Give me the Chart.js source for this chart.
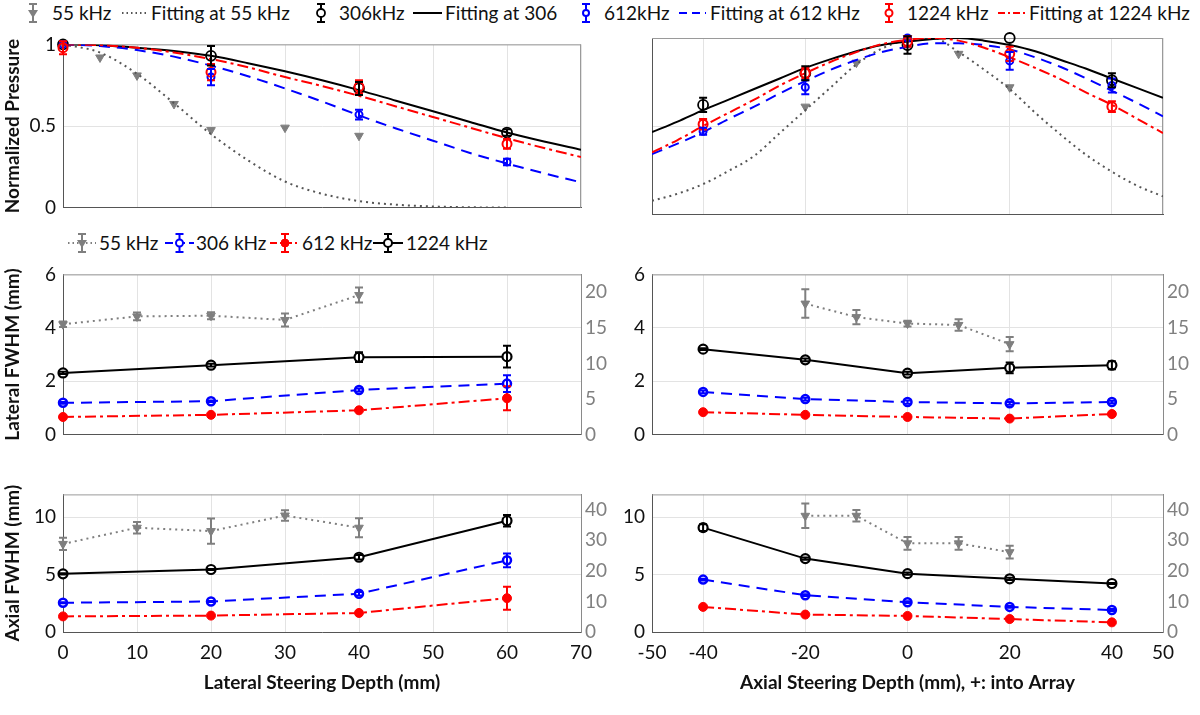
<!DOCTYPE html>
<html>
<head>
<meta charset="utf-8">
<script src="https://cdn.jsdelivr.net/npm/chart.js@4.4.0/dist/chart.umd.min.js"></script>
<style>
  body { margin: 0; width: 1200px; height: 715px; background: #fff; position: relative; overflow: hidden;
         font-family: Lato, "Open Sans", sans-serif; }
  canvas { position: absolute; }
  .lg { position: absolute; font-size: 19px; line-height: 22px; color: #111; white-space: nowrap; }
  svg.ic { position: absolute; overflow: visible; }
</style>
</head>
<body>
<script>
// ---- data: top row, normalized pressure ----
const fitLatX = [0, 5, 10, 15, 20, 25, 30, 35, 40, 45, 50, 55, 60, 65, 70];
const fitLat55X = [0, 5, 10, 15, 20, 25, 30, 35, 40, 45, 50, 55, 60];
const fitLat55 = [1, 0.95, 0.82, 0.64, 0.45, 0.29, 0.16, 0.085, 0.04, 0.018, 0.007, 0.002, 0];
const fitLat306 = [1, 0.995, 0.98, 0.96, 0.93, 0.885, 0.835, 0.78, 0.72, 0.655, 0.59, 0.525, 0.46, 0.405, 0.355];
const fitLat612 = [1, 0.99, 0.965, 0.925, 0.87, 0.805, 0.73, 0.65, 0.565, 0.485, 0.41, 0.335, 0.27, 0.21, 0.155];
const fitLat1224 = [1, 0.995, 0.98, 0.95, 0.91, 0.86, 0.8, 0.745, 0.685, 0.62, 0.555, 0.49, 0.425, 0.365, 0.31];

const pLat55X = [0, 5, 10, 15, 20, 30, 40];
const pLat55 = [1, 0.92, 0.81, 0.635, 0.475, 0.49, 0.44];
const pLatX = [0, 20, 40, 60];
const pLat306 = [1, 0.93, 0.73, 0.46];     const pLat306Err = [0, 0.06, 0.04, 0.02];
const pLat612 = [1, 0.80, 0.57, 0.28];     const pLat612Err = [0, 0.05, 0.03, 0.02];
const pLat1224 = [0.98, 0.83, 0.74, 0.39]; const pLat1224Err = [0.04, 0.05, 0.04, 0.03];

const fitAxX = [-50, -45, -40, -35, -30, -25, -20, -15, -10, -5, 0, 5, 10, 15, 20, 25, 30, 35, 40, 45, 50];
const fitAx55 = [0.075, 0.115, 0.17, 0.245, 0.33, 0.46, 0.59, 0.72, 0.85, 0.94, 0.99, 1.0, 0.92, 0.82, 0.71, 0.575, 0.45, 0.335, 0.24, 0.16, 0.10];
const fitAx306 = [0.465, 0.525, 0.59, 0.65, 0.71, 0.77, 0.83, 0.88, 0.925, 0.96, 0.98, 0.995, 1.0, 0.985, 0.96, 0.925, 0.875, 0.825, 0.77, 0.715, 0.66];
const fitAx612 = [0.34, 0.40, 0.465, 0.54, 0.61, 0.685, 0.755, 0.82, 0.875, 0.92, 0.95, 0.97, 0.97, 0.96, 0.935, 0.89, 0.835, 0.77, 0.70, 0.63, 0.555];
const fitAx1224 = [0.35, 0.42, 0.50, 0.575, 0.65, 0.73, 0.80, 0.865, 0.92, 0.965, 0.99, 1.0, 0.985, 0.945, 0.89, 0.83, 0.765, 0.69, 0.62, 0.54, 0.46];

const pAx55X = [-20, -10, 0, 10, 20];
const pAx55 = [0.61, 0.86, 1.0, 0.91, 0.72];
const pAxX = [-40, -20, 0, 20, 40];
const pAx306 = [0.62, 0.80, 0.96, 1.0, 0.76];   const pAx306Err = [0.04, 0.04, 0.05, 0, 0.04];
const pAx612 = [0.47, 0.72, 1.0, 0.87, 0.73];   const pAx612Err = [0.02, 0.04, 0, 0.05, 0.04];
const pAx1224 = [0.51, 0.80, 0.98, 0.91, 0.61]; const pAx1224Err = [0.03, 0.03, 0.03, 0.04, 0.03];

// ---- data: middle row, lateral FWHM (55 kHz on right axis) ----
const wLat55X = [0, 10, 20, 30, 40];
const wLat55 = [15.5, 16.6, 16.7, 16.1, 19.6];   const wLat55Err = [0.4, 0.55, 0.5, 0.9, 1.05];
const wLatX = [0, 20, 40, 60];
const wLat306 = [1.19, 1.25, 1.67, 1.91];        const wLat306Err = [0.03, 0.03, 0.06, 0.31];
const wLat612 = [0.66, 0.74, 0.91, 1.36];        const wLat612Err = [0.02, 0.02, 0.03, 0.45];
const wLat1224 = [2.31, 2.6, 2.9, 2.92];         const wLat1224Err = [0.04, 0.05, 0.18, 0.41];

const wAx55X = [-20, -10, 0, 10, 20];
const wAx55 = [18.4, 16.5, 15.6, 15.4, 12.7];    const wAx55Err = [2.0, 1.0, 0.4, 0.8, 1.0];
const wAxX = [-40, -20, 0, 20, 40];
const wAx306 = [1.6, 1.33, 1.22, 1.17, 1.22];    const wAx306Err = [0.05, 0.05, 0.06, 0.05, 0.05];
const wAx612 = [0.84, 0.74, 0.66, 0.6, 0.77];    const wAx612Err = [0.02, 0.02, 0.02, 0.02, 0.02];
const wAx1224 = [3.2, 2.8, 2.3, 2.5, 2.6];       const wAx1224Err = [0.03, 0.05, 0.05, 0.2, 0.15];

// ---- data: bottom row, axial FWHM (55 kHz on right axis) ----
const aLat55X = [0, 10, 20, 30, 40];
const aLat55 = [28.8, 34.1, 33.0, 38.1, 34.1];   const aLat55Err = [2.0, 1.9, 4.1, 1.7, 3.1];
const aLatX = [0, 20, 40, 60];
const aLat306 = [2.55, 2.66, 3.34, 6.25];        const aLat306Err = [0.05, 0.05, 0.15, 0.6];
const aLat612 = [1.36, 1.43, 1.66, 2.95];        const aLat612Err = [0.03, 0.03, 0.05, 1.0];
const aLat1224 = [5.07, 5.45, 6.52, 9.7];        const aLat1224Err = [0.05, 0.05, 0.2, 0.5];

const aAx55X = [-20, -10, 0, 10, 20];
const aAx55 = [38.0, 38.0, 29.0, 29.0, 26.1];    const aAx55Err = [4.0, 1.9, 2.1, 2.1, 2.1];
const aAxX = [-40, -20, 0, 20, 40];
const aAx306 = [4.57, 3.21, 2.6, 2.19, 1.92];    const aAx306Err = [0.08, 0.08, 0.08, 0.08, 0.08];
const aAx612 = [2.19, 1.52, 1.4, 1.13, 0.84];    const aAx612Err = [0.03, 0.03, 0.03, 0.03, 0.03];
const aAx1224 = [9.1, 6.4, 5.09, 4.64, 4.23];    const aAx1224Err = [0.3, 0.1, 0.1, 0.1, 0.05];

// ---- ticks ----
const latTicks = [0, 10, 20, 30, 40, 50, 60, 70];
const axTicks = [-50, -40, -20, 0, 20, 40, 50];
const presTicks = [0, 0.5, 1];
const latWTicks = [0, 2, 4, 6];
const latWTicks2 = [0, 5, 10, 15, 20];
const axWTicks = [0, 5, 10];
const axWTicks2 = [0, 10, 20, 30, 40];

// ---- styles ----
const GRAY = '#7f7f7f', BLUE = '#0000ff', RED = '#ff0000', BLACK = '#000000';
const FONT = 'Lato, "Open Sans", sans-serif';
const DOT = [2, 4], DASH = [11, 7], DASHDOT = [11, 4, 3, 4];

function xy(xs, ys) { return xs.map((x, i) => ({ x: x, y: ys[i] })); }

function pts(xs, ys, errs, st, extra) {
  return Object.assign({
    data: xy(xs, ys), errs: errs, borderColor: st.c, borderWidth: 2, borderDash: st.dash || [],
    showLine: !!st.line, pointStyle: st.pt, pointRotation: st.rot || 0, pointRadius: st.r,
    pointBackgroundColor: st.fill, pointBorderColor: st.c, pointBorderWidth: st.bw || 1.8,
    tension: 0, clip: false, yAxisID: 'y'
  }, extra || {});
}
function fit(xs, ys, c, dash) {
  return { data: xy(xs, ys), borderColor: c, borderWidth: 2, borderDash: dash, pointRadius: 0,
           cubicInterpolationMode: 'monotone', yAxisID: 'y' };
}

const mk55 = { c: GRAY, pt: 'triangle', rot: 180, r: 5, fill: GRAY, bw: 1 };
const mk306 = { c: BLACK, pt: 'circle', r: 5, fill: 'rgba(0,0,0,0)' };
const mk612 = { c: BLUE, pt: 'circle', r: 3.5, fill: 'rgba(0,0,0,0)', bw: 2 };
const mk1224 = { c: RED, pt: 'circle', r: 4.5, fill: 'rgba(0,0,0,0)', bw: 2 };

const ln55 = { c: GRAY, pt: 'triangle', rot: 180, r: 5, fill: GRAY, bw: 1, line: true, dash: DOT };
const ln306 = { c: BLUE, pt: 'circle', r: 4, fill: '#ffffff', bw: 2.5, line: true, dash: DASH };
const ln612 = { c: RED, pt: 'circle', r: 4.5, fill: RED, bw: 1, line: true, dash: DASHDOT };
const ln1224 = { c: BLACK, pt: 'circle', r: 4.5, fill: '#ffffff', bw: 2.2, line: true };

// ---- plugins ----
const errPlugin = {
  id: 'errbars',
  afterDatasetsDraw(chart) {
    const ctx = chart.ctx;
    chart.data.datasets.forEach((ds, di) => {
      if (!ds.errs) return;
      const meta = chart.getDatasetMeta(di);
      const ys = chart.scales[meta.yAxisID];
      ctx.save();
      ctx.strokeStyle = ds.borderColor; ctx.lineWidth = 2; ctx.setLineDash([]);
      meta.data.forEach((pt, i) => {
        const e = ds.errs[i];
        if (!e) return;
        const v = ds.data[i].y;
        const y1 = ys.getPixelForValue(v + e), y2 = ys.getPixelForValue(v - e);
        ctx.beginPath();
        ctx.moveTo(pt.x, y1); ctx.lineTo(pt.x, y2);
        ctx.moveTo(pt.x - 4, y1); ctx.lineTo(pt.x + 4, y1);
        ctx.moveTo(pt.x - 4, y2); ctx.lineTo(pt.x + 4, y2);
        ctx.stroke();
      });
      ctx.restore();
    });
  }
};
const boxPlugin = {
  id: 'box',
  beforeDatasetsDraw(chart) {
    const a = chart.chartArea, ctx = chart.ctx;
    ctx.save();
    ctx.strokeStyle = '#9a9a9a'; ctx.lineWidth = 1;
    ctx.beginPath();
    ctx.moveTo(a.left, a.top + 0.5); ctx.lineTo(a.right, a.top + 0.5);
    if (!chart.scales.y2) { ctx.moveTo(a.right - 0.5, a.top); ctx.lineTo(a.right - 0.5, a.bottom); }
    ctx.stroke();
    ctx.restore();
  }
};

// ---- panel factory ----
function panel(p) {
  const cv = document.createElement('canvas');
  cv.width = p.w; cv.height = p.h;
  cv.style.left = p.left + 'px'; cv.style.top = p.top + 'px';
  cv.style.width = p.w + 'px'; cv.style.height = p.h + 'px';
  document.body.appendChild(cv);

  const tickFont = { family: FONT, size: 19 };
  const titleFont = { family: FONT, size: 19, weight: 'bold' };
  const plain = v => String(v);
  const scales = {
    x: {
      type: 'linear', min: p.x.min, max: p.x.max,
      afterBuildTicks: s => { s.ticks = p.x.ticks.map(v => ({ value: v })); },
      ticks: { display: !!p.x.labels, font: tickFont, color: '#111', padding: 9, maxRotation: 0, autoSkip: false, callback: plain },
      grid: { color: '#e3e3e3', drawTicks: false },
      border: { color: '#555' },
      title: p.x.title ? { display: true, text: p.x.title, font: titleFont, color: '#111', padding: { top: 3, bottom: 0 } } : { display: false },
      afterFit: s => { s.height = p.x.labels ? 62 : 0; }
    },
    y: {
      type: 'linear', position: 'left', min: p.y.min, max: p.y.max,
      afterBuildTicks: s => { s.ticks = p.y.ticks.map(v => ({ value: v })); },
      ticks: { display: !!p.y.labels, font: tickFont, color: '#111', padding: 7, callback: plain },
      grid: { color: '#e3e3e3', drawTicks: false },
      border: { color: '#555' },
      title: p.y.title ? { display: true, text: p.y.title, font: titleFont, color: '#111', padding: { top: 1, bottom: 0 } } : { display: false },
      afterFit: s => { s.width = p.yw; }
    }
  };
  if (p.y2) {
    scales.y2 = {
      type: 'linear', position: 'right', min: p.y2.min, max: p.y2.max,
      afterBuildTicks: s => { s.ticks = p.y2.ticks.map(v => ({ value: v })); },
      ticks: { font: tickFont, color: '#808080', padding: 4, callback: plain },
      grid: { display: false, drawTicks: false },
      border: { color: '#8a8a8a' },
      afterFit: s => { s.width = p.y2w; }
    };
  }
  const ds = p.datasets.slice().reverse();
  return new Chart(cv, {
    type: 'line',
    data: { datasets: ds },
    options: {
      responsive: false, animation: false, devicePixelRatio: 1,
      layout: { padding: { top: p.padTop, bottom: p.padBottom, left: 0, right: p.y2 ? 0 : p.y2w } },
      plugins: { legend: { display: false }, tooltip: { enabled: false } },
      scales: scales
    },
    plugins: [boxPlugin, errPlugin]
  });
}

const LEFT = { left: 0, w: 620, yw: 63, y2w: 39 };
const RIGHT = { left: 600, w: 600, yw: 52, y2w: 37 };
const TOP = { top: 26, h: 200, padTop: 12, padBottom: 12 };
const MID = { top: 256, h: 197, padTop: 12, padBottom: 12 };
const BOT = { top: 476, h: 239, padTop: 12, padBottom: 21 };

// top-left
panel(Object.assign({}, LEFT, TOP, {
  x: { min: 0, max: 70, ticks: latTicks },
  y: { min: 0, max: 1, ticks: presTicks, labels: true, title: 'Normalized Pressure' },
  datasets: [
    pts(pLat55X, pLat55, null, mk55),
    fit(fitLat55X, fitLat55, '#555555', DOT),
    pts(pLatX, pLat306, pLat306Err, mk306),
    fit(fitLatX, fitLat306, BLACK, []),
    pts(pLatX, pLat612, pLat612Err, mk612),
    fit(fitLatX, fitLat612, BLUE, DASH),
    pts(pLatX, pLat1224, pLat1224Err, mk1224),
    fit(fitLatX, fitLat1224, RED, DASHDOT)
  ]
}));
// top-right
panel(Object.assign({}, RIGHT, TOP, {
  x: { min: -50, max: 50, ticks: axTicks },
  y: { min: 0, max: 1, ticks: presTicks },
  datasets: [
    pts(pAx55X, pAx55, null, mk55),
    fit(fitAxX, fitAx55, '#555555', DOT),
    pts(pAxX, pAx306, pAx306Err, mk306),
    fit(fitAxX, fitAx306, BLACK, []),
    pts(pAxX, pAx612, pAx612Err, mk612),
    fit(fitAxX, fitAx612, BLUE, DASH),
    pts(pAxX, pAx1224, pAx1224Err, mk1224),
    fit(fitAxX, fitAx1224, RED, DASHDOT)
  ]
}));
// middle-left
panel(Object.assign({}, LEFT, MID, {
  x: { min: 0, max: 70, ticks: latTicks },
  y: { min: 0, max: 6, ticks: latWTicks, labels: true, title: 'Lateral FWHM (mm)' },
  y2: { min: 0, max: 22.5, ticks: latWTicks2 },
  datasets: [
    pts(wLat55X, wLat55, wLat55Err, ln55, { yAxisID: 'y2' }),
    pts(wLatX, wLat306, wLat306Err, ln306),
    pts(wLatX, wLat612, wLat612Err, ln612),
    pts(wLatX, wLat1224, wLat1224Err, ln1224)
  ]
}));
// middle-right
panel(Object.assign({}, RIGHT, MID, {
  x: { min: -50, max: 50, ticks: axTicks },
  y: { min: 0, max: 6, ticks: latWTicks, labels: true },
  y2: { min: 0, max: 22.5, ticks: latWTicks2 },
  datasets: [
    pts(wAx55X, wAx55, wAx55Err, ln55, { yAxisID: 'y2' }),
    pts(wAxX, wAx306, wAx306Err, ln306),
    pts(wAxX, wAx612, wAx612Err, ln612),
    pts(wAxX, wAx1224, wAx1224Err, ln1224)
  ]
}));
// bottom-left
panel(Object.assign({}, LEFT, BOT, {
  x: { min: 0, max: 70, ticks: latTicks, labels: true, title: 'Lateral Steering Depth (mm)' },
  y: { min: 0, max: 12, ticks: axWTicks, labels: true, title: 'Axial FWHM (mm)' },
  y2: { min: 0, max: 45, ticks: axWTicks2 },
  datasets: [
    pts(aLat55X, aLat55, aLat55Err, ln55, { yAxisID: 'y2' }),
    pts(aLatX, aLat306, aLat306Err, ln306),
    pts(aLatX, aLat612, aLat612Err, ln612),
    pts(aLatX, aLat1224, aLat1224Err, ln1224)
  ]
}));
// bottom-right
panel(Object.assign({}, RIGHT, BOT, {
  x: { min: -50, max: 50, ticks: axTicks, labels: true, title: 'Axial Steering Depth (mm), +: into Array' },
  y: { min: 0, max: 12, ticks: axWTicks, labels: true },
  y2: { min: 0, max: 45, ticks: axWTicks2 },
  datasets: [
    pts(aAx55X, aAx55, aAx55Err, ln55, { yAxisID: 'y2' }),
    pts(aAxX, aAx306, aAx306Err, ln306),
    pts(aAxX, aAx612, aAx612Err, ln612),
    pts(aAxX, aAx1224, aAx1224Err, ln1224)
  ]
}));

// ---- legends (html text + small svg samples) ----
function svgIcon(x0, x1, cy, o) {
  const w = x1 - x0, mid = w / 2;
  let s = '<svg class="ic" width="' + w + '" height="24" style="left:' + x0 + 'px;top:' + (cy - 12) + 'px">';
  if (o.dash !== undefined) {
    s += '<line x1="0" y1="12" x2="' + w + '" y2="12" stroke="' + o.c + '" stroke-width="2"' +
         (o.dash ? ' stroke-dasharray="' + o.dash + '"' : '') + '/>';
  }
  if (o.err) {
    s += '<path d="M' + mid + ' 3 V21 M' + (mid - 4) + ' 3 H' + (mid + 4) + ' M' + (mid - 4) + ' 21 H' + (mid + 4) +
         '" stroke="' + o.c + '" stroke-width="2" fill="none"/>';
  }
  if (o.mk === 'tri') s += '<path d="M' + (mid - 5) + ' 9 L' + (mid + 5) + ' 9 L' + mid + ' 17 Z" fill="' + o.c + '"/>';
  if (o.mk === 'circ') s += '<circle cx="' + mid + '" cy="12" r="' + (o.r || 4) + '" fill="' + (o.fill || 'white') +
         '" stroke="' + o.c + '" stroke-width="' + (o.bw || 1.8) + '"/>';
  s += '</svg>';
  return s;
}
function text(x, cy, t) { return '<div class="lg" style="left:' + x + 'px;top:' + (cy - 11) + 'px">' + t + '</div>'; }

const leg1Y = 13, leg2Y = 243;
let html = '';
html += svgIcon(25, 41, leg1Y, { c: GRAY, err: true, mk: 'tri' }) + text(52, leg1Y, '55 kHz');
html += svgIcon(122, 148, leg1Y, { c: '#555', dash: '1.5 3' }) + text(151, leg1Y, 'Fitting at 55 kHz');
html += svgIcon(313, 329, leg1Y, { c: BLACK, err: true, mk: 'circ', r: 4 }) + text(339, leg1Y, '306kHz');
html += svgIcon(413, 442, leg1Y, { c: BLACK, dash: '' }) + text(445, leg1Y, 'Fitting at 306');
html += svgIcon(578, 594, leg1Y, { c: BLUE, err: true, mk: 'circ', r: 3, bw: 2 }) + text(604, leg1Y, '612kHz');
html += svgIcon(679, 706, leg1Y, { c: BLUE, dash: '8 5' }) + text(710, leg1Y, 'Fitting at 612 kHz');
html += svgIcon(881, 897, leg1Y, { c: RED, err: true, mk: 'circ', r: 3.5, bw: 2 }) + text(907, leg1Y, '1224 kHz');
html += svgIcon(998, 1027, leg1Y, { c: RED, dash: '7 3 2 3' }) + text(1029, leg1Y, 'Fitting at 1224 kHz');

html += svgIcon(68, 96, leg2Y, { c: GRAY, dash: '1.5 3', err: true, mk: 'tri' }) + text(99, leg2Y, '55 kHz');
html += svgIcon(165, 194, leg2Y, { c: BLUE, dash: '8 4', err: true, mk: 'circ', r: 3.5, bw: 2 }) + text(196, leg2Y, '306 kHz');
html += svgIcon(270, 300, leg2Y, { c: RED, dash: '7 3 2 3', err: true, mk: 'circ', r: 4, fill: RED, bw: 1 }) + text(302, leg2Y, '612 kHz');
html += svgIcon(373, 403, leg2Y, { c: BLACK, dash: '', err: true, mk: 'circ', r: 4, bw: 2 }) + text(406, leg2Y, '1224 kHz');

const legendBox = document.createElement('div');
legendBox.innerHTML = html;
document.body.appendChild(legendBox);
</script>
</body>
</html>
